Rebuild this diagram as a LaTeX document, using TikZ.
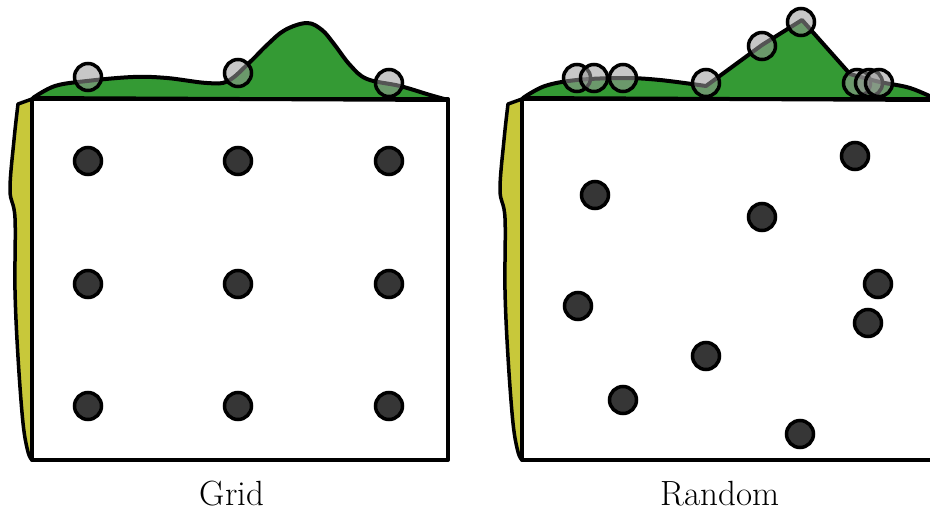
\documentclass[tikz,border=0pt]{standalone}
\usepackage{tikz}
\usetikzlibrary{positioning}

\definecolor{hillgreen}{HTML}{349A34}
\definecolor{sideyellow}{HTML}{C8C83A}
\definecolor{dotgray}{HTML}{363636}

\begin{document}
\begin{tikzpicture}[
			x=1pt, y=-1pt,
			frame/.style={draw, line width=4pt, line join=round},
			hill/.style={draw, fill=hillgreen, line width=4pt, line join=round},
			side/.style={draw, fill=sideyellow, line width=3.5pt, line join=round},
			dot/.style={circle, draw, fill=dotgray, line width=3.5pt, minimum size=27pt, inner sep=0pt},
			probe/.style={circle, draw, fill=gray!80, fill opacity=0.55, line width=3.5pt, minimum size=27pt, inner sep=0pt},
			caption/.style={font=\fontsize{35}{40}\selectfont}
			]
			\useasboundingbox (0,0) rectangle (930,512);
			\clip (0,0) rectangle (930,512);
			% grid panel
			\filldraw[hill] plot[smooth, tension=0.6] coordinates {(33,98) (55,86) (87,81) (133,77) (167,78) (207,83) (228,81) (250,62) (267,45) (285,30) (307,23) (322,30) (334,44) (350,65) (367,79) (400,86) (430,95) (448,100)} -- cycle;
			\filldraw[side] (32,99) -- plot[smooth, tension=0.6] coordinates {(18,104) (14,140) (10,190) (15,218) (15,290) (18,357) (23,423) (28,452) (32,460)} -- cycle;
			\draw[frame] (32,99) rectangle (448,460);
			\foreach \c/\x in {1/88, 2/238, 3/389} {
				\foreach \r/\y in {1/161, 2/284, 3/406} {
					\node[dot] (g-\c-\r) at (\x,\y) {};
				}
			}
			\node[probe] (gp-1) at (88,77) {};
			\node[probe] (gp-2) at (238,73) {};
			\node[probe] (gp-3) at (389,83) {};
			\node[caption] (gridlabel) at (232,494) {Grid};
			% random panel
			\filldraw[hill] plot[smooth, tension=0.6] coordinates {(523,98) (545,86) (577,80) (623,78) (660,80) (706,86)} -- (762,45) -- (802,20) -- (850,74) -- plot[smooth, tension=0.6] coordinates {(850,74) (880,82) (910,88) (938,100)} -- cycle;
			\filldraw[side] (522,99) -- plot[smooth, tension=0.6] coordinates {(508,104) (504,140) (500,190) (505,218) (505,290) (508,357) (513,423) (518,452) (522,460)} -- cycle;
			\draw[frame] (522,99) rectangle (938,460);
			\foreach \n/\x/\y in {1/855/156, 2/595/195, 3/762/217, 4/578/306, 5/878/284, 6/868/323, 7/706/356, 8/623/400, 9/800/434} {
				\node[dot] (r-\n) at (\x,\y) {};
			}
			\foreach \n/\x/\y in {1/577/78, 2/594/78, 3/623/78, 4/706/83, 5/762/46, 6/801/22, 7/857/83, 8/869/83, 9/879/83} {
				\node[probe] (rp-\n) at (\x,\y) {};
			}
			\node[caption] (randomlabel) at (720,494) {Random};
		\end{tikzpicture}
\end{document}
